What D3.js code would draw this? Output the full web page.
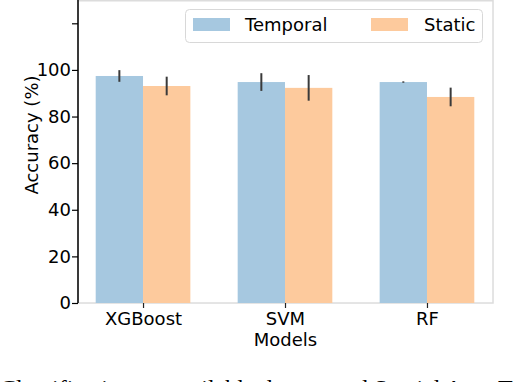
<!DOCTYPE html>
<html>
<head>
<meta charset="utf-8">
<script src="https://cdn.jsdelivr.net/npm/d3@7"></script>
<style>
  body { margin: 0; background: #fff; }
  svg { display: block; }
  text { font-family: "DejaVu Sans", sans-serif; fill: #000; }
</style>
</head>
<body>
<div id="chart"></div>
<script>
var models = ["XGBoost", "SVM", "RF"];
var temporal = [97.4, 94.8, 94.8];
var temporalErr = [2.5, 3.8, 0.3];
var staticVals = [93.1, 92.3, 88.4];
var staticErr = [4.0, 5.5, 4.0];
var yTicks = [0, 20, 40, 60, 80, 100, 120];
var yTickLabels = ["0", "20", "40", "60", "80", "100", ""];

var width = 518, height = 382;
var plotLeft = 78, plotRight = 493, plotTop = 0, plotBottom = 303;
var barW = 1 / 3;

var svg = d3.select("#chart").append("svg")
  .attr("width", width)
  .attr("height", height);

var x = d3.scaleLinear().domain([-0.458, 2.465]).range([plotLeft, plotRight]);
var y = d3.scaleLinear().domain([0, 130]).range([plotBottom, plotTop]);

// frame (light spines)
svg.append("rect")
  .attr("x", plotLeft).attr("y", plotTop + 0.75)
  .attr("width", plotRight - plotLeft).attr("height", plotBottom - plotTop - 0.75)
  .attr("fill", "none")
  .attr("stroke", "#dcdcdc")
  .attr("stroke-width", 1.5);

var series = [
  {name: "Temporal", vals: temporal, err: temporalErr, color: "#a6c8e0", off: -barW},
  {name: "Static", vals: staticVals, err: staticErr, color: "#fdca9d", off: 0}
];

series.forEach(function(s){
  svg.selectAll("rect.bar-" + s.name)
    .data(s.vals).enter()
    .append("rect")
      .attr("class", "bar-" + s.name)
      .attr("x", function(d, i){ return x(i + s.off); })
      .attr("width", function(){ return x(barW) - x(0); })
      .attr("y", function(d){ return y(d); })
      .attr("height", function(d){ return y(0) - y(d); })
      .attr("fill", s.color);

  svg.selectAll("line.err-" + s.name)
    .data(s.vals).enter()
    .append("line")
      .attr("class", "err-" + s.name)
      .attr("x1", function(d, i){ return x(i + s.off + barW / 2); })
      .attr("x2", function(d, i){ return x(i + s.off + barW / 2); })
      .attr("y1", function(d, i){ return y(d - s.err[i]); })
      .attr("y2", function(d, i){ return y(d + s.err[i]); })
      .attr("stroke", "#3a3a3a")
      .attr("stroke-width", 2);
});

// y axis
var yAxis = d3.axisLeft(y)
  .tickValues(yTicks)
  .tickSize(6)
  .tickPadding(1)
  .tickFormat(function(d, i){ return yTickLabels[i]; });

var yG = svg.append("g")
  .attr("transform", "translate(" + plotLeft + ",0)")
  .call(yAxis);
yG.select(".domain").attr("stroke", "#000").attr("stroke-width", 1.5)
  .attr("d", "M0," + plotTop + "V" + plotBottom);
yG.selectAll(".tick line").attr("stroke", "#000").attr("stroke-width", 1.2);
yG.selectAll(".tick text")
  .style("font-family", "DejaVu Sans")
  .style("font-size", "18px")
  .attr("fill", "#000");

// x axis
var xAxis = d3.axisBottom(x)
  .tickValues(d3.range(models.length))
  .tickSize(5)
  .tickPadding(4)
  .tickFormat(function(d){ return models[d]; });

var xG = svg.append("g")
  .attr("transform", "translate(0," + plotBottom + ")")
  .call(xAxis);
xG.select(".domain").remove();
xG.selectAll(".tick line").attr("stroke", "#222").attr("stroke-width", 1.2);
xG.selectAll(".tick text")
  .style("font-family", "DejaVu Sans")
  .style("font-size", "18px")
  .attr("fill", "#000");

// axis titles
svg.append("text")
  .attr("x", (plotLeft + plotRight) / 2)
  .attr("y", 346)
  .attr("text-anchor", "middle")
  .style("font-size", "18px")
  .text("Models");

svg.append("text")
  .attr("transform", "translate(38,135) rotate(-90)")
  .attr("text-anchor", "middle")
  .style("font-size", "18px")
  .text("Accuracy (%)");

// legend
var legend = svg.append("g");
legend.append("rect")
  .attr("x", 185.5).attr("y", 9.5)
  .attr("width", 297).attr("height", 33)
  .attr("rx", 4)
  .attr("fill", "#fff")
  .attr("stroke", "#d8d8d8");

var legendPos = [{px: 193, tx: 245}, {px: 371, tx: 424}];
series.forEach(function(s, i){
  legend.append("rect")
    .attr("x", legendPos[i].px).attr("y", 18)
    .attr("width", 37).attr("height", 13)
    .attr("fill", s.color);
  legend.append("text")
    .attr("x", legendPos[i].tx).attr("y", 31)
    .style("font-size", "18px")
    .text(s.name);
});

// caption (cut off by the frame edge, as in the source)
svg.append("text")
  .attr("x", 0)
  .attr("y", 396)
  .style("font-family", "Liberation Serif, serif")
  .style("font-size", "24px")
  .text("Classification on available dataset and Spatial Aug. Te");
</script>
</body>
</html>
